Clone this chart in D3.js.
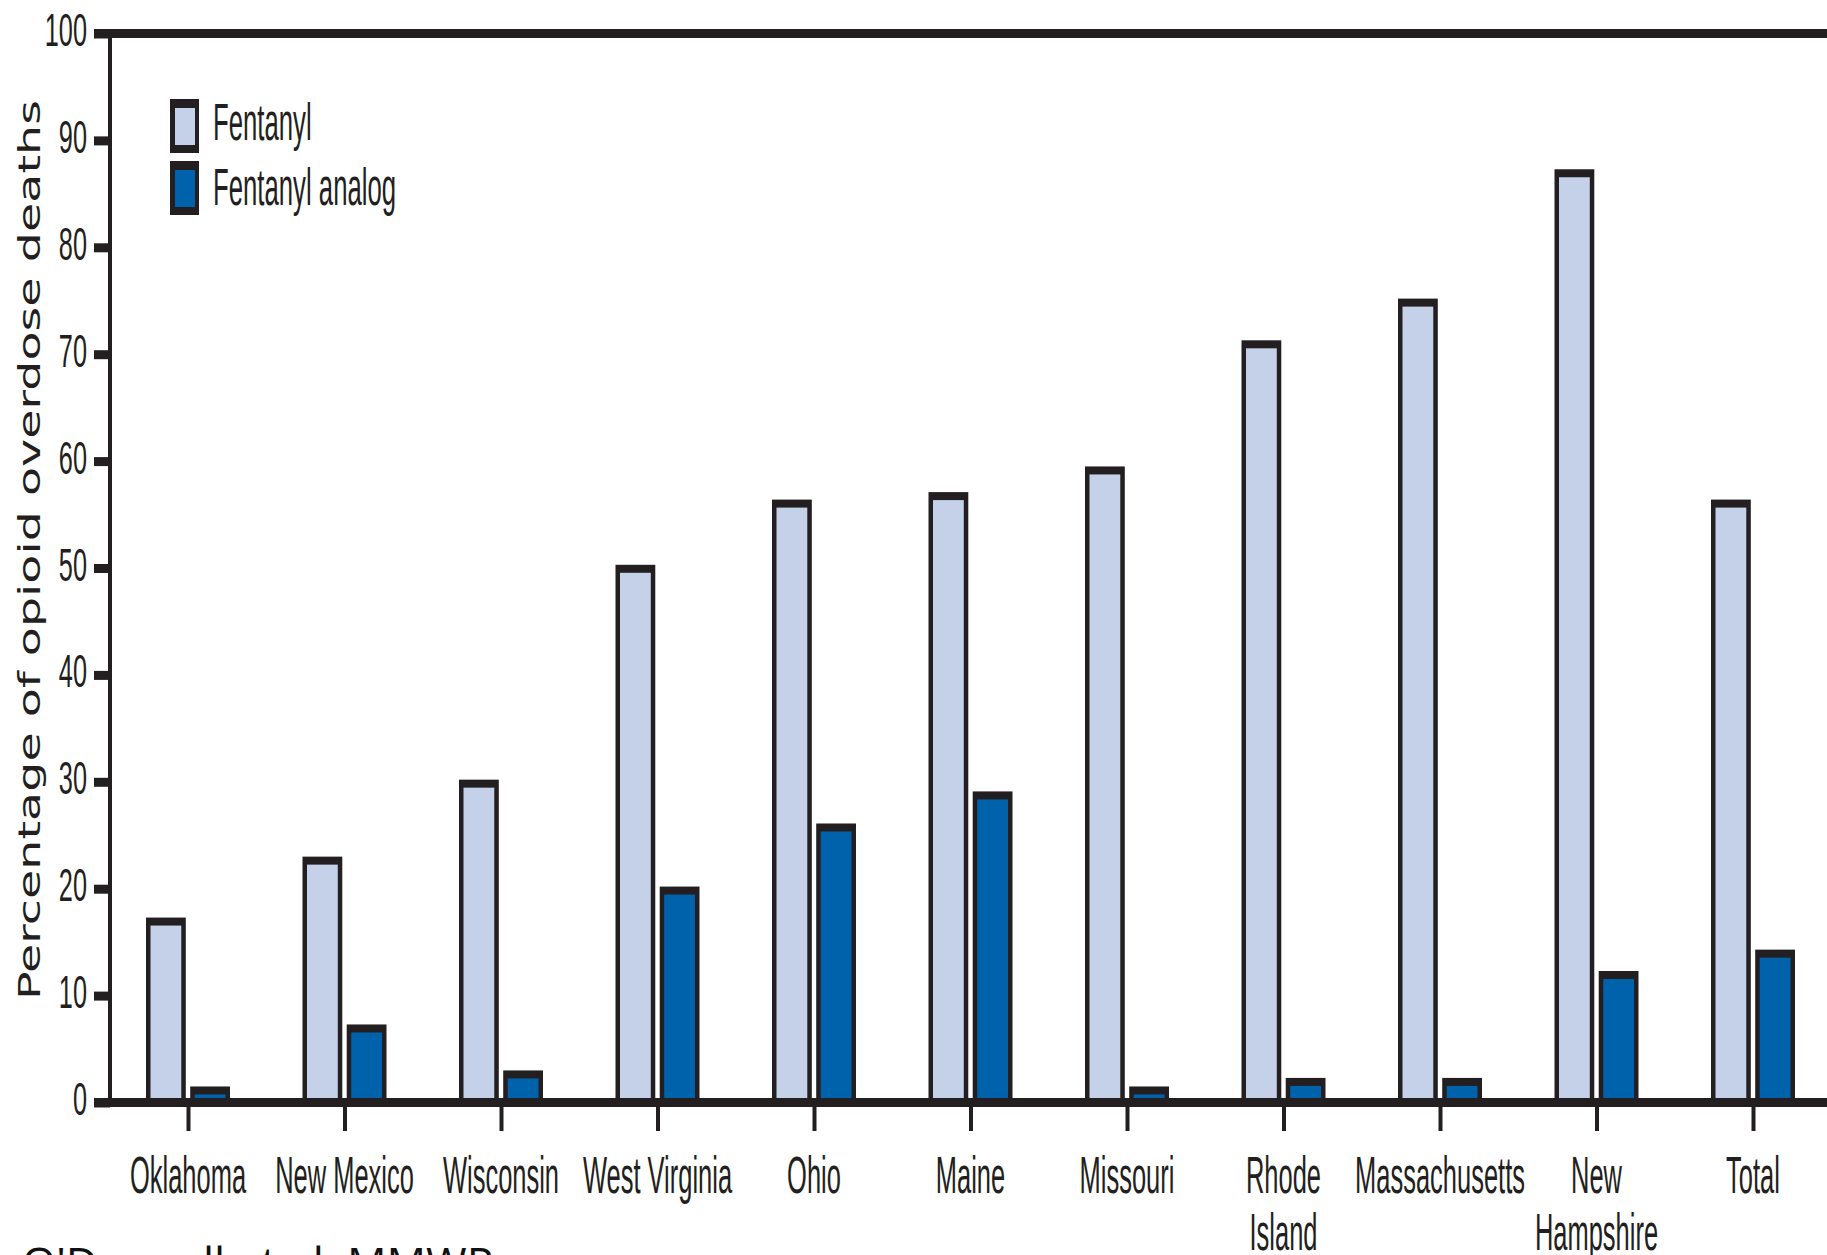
<!DOCTYPE html>
<html>
<head>
<meta charset="utf-8">
<script src="https://cdn.jsdelivr.net/npm/d3@7"></script>
<style>
  html, body { margin: 0; padding: 0; background: #fff; }
  svg { display: block; }
</style>
</head>
<body>
<svg id="chart"></svg>
<script>
// data
const states = ['Oklahoma', 'New Mexico', 'Wisconsin', 'West Virginia', 'Ohio', 'Maine',
    'Missouri', 'Rhode Island', 'Massachusetts', 'New Hampshire', 'Total']
const stateLabels = [['Oklahoma'], ['New Mexico'], ['Wisconsin'], ['West Virginia'], ['Ohio'], ['Maine'],
    ['Missouri'], ['Rhode', 'Island'], ['Massachusetts'], ['New', 'Hampshire'], ['Total']]
const series = ['Fentanyl', 'Fentanyl analog']
const fentanyl = [17.3, 23.0, 30.2, 50.3, 56.4, 57.1, 59.5, 71.3, 75.2, 87.3, 56.4]
const analog = [1.5, 7.3, 3.0, 20.2, 26.1, 29.1, 1.5, 2.3, 2.3, 12.3, 14.3]
const yTicks = d3.range(0, 101, 10)

const W = 1827, H = 1255
const ink = '#231f20'
const colors = {'Fentanyl': '#c5d1e8', 'Fentanyl analog': '#0062ab'}
const font = '"Liberation Sans", Arial, sans-serif'

const svg = d3.select('#chart').attr('width', W).attr('height', H)

const x = d3.scalePoint().domain(states).range([188, 1753])
const xSub = d3.scaleBand().domain(series).range([-42, 42]).paddingInner(0.1)
const y = d3.scaleLinear().domain([0, 100]).range([1102.5, 33.5])

const rows = states.map((s, i) => ({state: s, values: [
    {key: 'Fentanyl', v: fentanyl[i]},
    {key: 'Fentanyl analog', v: analog[i]}
]}))

// bars: dark body with a heavy cap, fill inset
const groups = svg.append('g').attr('class', 'bars')
    .selectAll('g').data(rows).join('g')
    .attr('transform', d => 'translate(' + x(d.state) + ',0)')

groups.selectAll('rect.outer').data(d => d.values).join('rect')
    .attr('class', 'outer')
    .attr('x', d => xSub(d.key))
    .attr('width', xSub.bandwidth())
    .attr('y', d => y(d.v))
    .attr('height', d => y(0) - y(d.v))
    .attr('fill', ink)

groups.selectAll('rect.inner').data(d => d.values).join('rect')
    .attr('class', 'inner')
    .attr('x', d => xSub(d.key) + 4.5)
    .attr('width', xSub.bandwidth() - 9)
    .attr('y', d => y(d.v) + 8)
    .attr('height', d => Math.max(0, y(0) - y(d.v) - 8))
    .attr('fill', d => colors[d.key])

// y axis
const yAxis = svg.append('g')
    .attr('transform', 'translate(110,0)')
    .call(d3.axisLeft(y).tickValues(yTicks).tickSize(16).tickFormat(d3.format('d')))
yAxis.select('.domain').attr('stroke', ink).attr('stroke-width', 4)
    .attr('d', 'M0,' + y(100) + 'V' + y(0))
yAxis.selectAll('.tick line').attr('stroke', ink).attr('stroke-width', 9)
yAxis.selectAll('.tick text')
    .attr('x', null).attr('dy', null)
    .attr('transform', 'translate(-23,12) scale(0.55,1)')
    .attr('fill', ink)
    .style('font-family', font)
    .style('font-size', '46px')
    .attr('text-anchor', 'end')

// top frame line and baseline
svg.append('line').attr('x1', 94).attr('x2', W).attr('y1', y(100)).attr('y2', y(100))
    .attr('stroke', ink).attr('stroke-width', 9)
svg.append('line').attr('x1', 94).attr('x2', W).attr('y1', y(0)).attr('y2', y(0))
    .attr('stroke', ink).attr('stroke-width', 9)

// x axis ticks and labels
const xAxis = svg.append('g')
    .attr('transform', 'translate(0,' + (y(0) + 4.5) + ')')
    .call(d3.axisBottom(x).tickSize(24).tickFormat(''))
xAxis.select('.domain').remove()
xAxis.selectAll('.tick line').attr('stroke', ink).attr('stroke-width', 4)

const labels = svg.append('g').attr('class', 'x-labels')
    .selectAll('g').data(states).join('g')
    .attr('transform', d => 'translate(' + x(d) + ',0)')
labels.each(function (d, i) {
    d3.select(this).selectAll('text').data(stateLabels[i]).join('text')
        .attr('transform', (t, j) => 'translate(0,' + (1193 + j * 57) + ') scale(0.49,1)')
        .attr('text-anchor', 'middle')
        .attr('fill', ink)
        .style('font-family', font)
        .style('font-size', '52px')
        .text(t => t)
})

// legend
const legend = svg.append('g').attr('class', 'legend')
    .selectAll('g').data(series).join('g')
    .attr('transform', (d, i) => 'translate(170,' + (99 + i * 62) + ')')
legend.append('rect').attr('width', 29).attr('height', 54).attr('fill', ink)
legend.append('rect').attr('x', 5).attr('y', 9).attr('width', 20).attr('height', 37)
    .attr('fill', d => colors[d])
legend.append('text')
    .attr('transform', (d, i) => 'translate(43,' + (41 + i * 3) + ') scale(0.495,1)')
    .attr('fill', ink)
    .style('font-family', font)
    .style('font-size', '52px')
    .text(d => d)

// y axis title
svg.append('text')
    .attr('transform', 'translate(40,1000) rotate(-90)')
    .attr('textLength', 900)
    .attr('lengthAdjust', 'spacingAndGlyphs')
    .attr('fill', ink)
    .style('font-family', '"DejaVu Sans", Verdana, sans-serif')
    .style('font-size', '30px')
    .text('Percentage of opioid overdose deaths')

// source line, cut off at the bottom edge
svg.append('text')
    .attr('x', 22).attr('y', 1279)
    .attr('fill', '#111')
    .style('font-family', '"Open Sans", sans-serif')
    .style('font-size', '44px')
    .text("O'Donnell et al. MMWR")
</script>
</body>
</html>
